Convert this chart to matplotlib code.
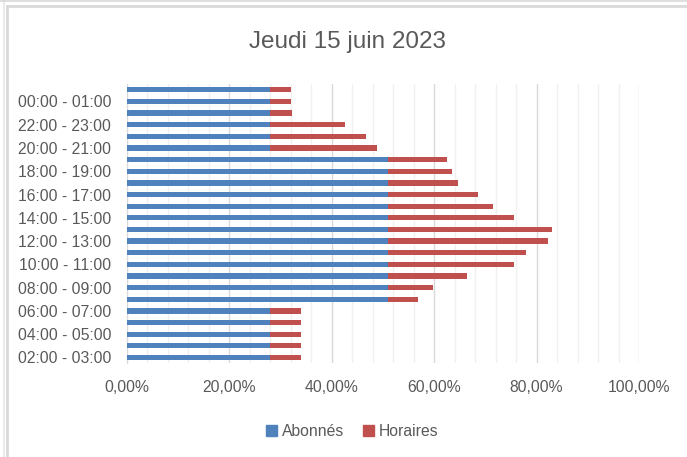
import matplotlib
matplotlib.use("Agg")
import matplotlib.pyplot as plt
from matplotlib.ticker import FixedLocator, FuncFormatter, MultipleLocator
from matplotlib.lines import Line2D
from matplotlib.patches import Patch

plt.rcParams['font.family'] = ['Liberation Sans', 'DejaVu Sans']

# categories, bottom to top
creneaux = ["02:00 - 03:00", "03:00 - 04:00", "04:00 - 05:00", "05:00 - 06:00",
            "06:00 - 07:00", "07:00 - 08:00", "08:00 - 09:00", "09:00 - 10:00",
            "10:00 - 11:00", "11:00 - 12:00", "12:00 - 13:00", "13:00 - 14:00",
            "14:00 - 15:00", "15:00 - 16:00", "16:00 - 17:00", "17:00 - 18:00",
            "18:00 - 19:00", "19:00 - 20:00", "20:00 - 21:00", "21:00 - 22:00",
            "22:00 - 23:00", "23:00 - 00:00", "00:00 - 01:00", "01:00 - 02:00"]

# percent values
abonnes = [28.0, 28.0, 28.0, 28.0, 28.0, 51.0, 51.0, 51.0, 51.0, 51.0, 51.0, 51.0,
           51.0, 51.0, 51.0, 51.0, 51.0, 51.0, 28.0, 28.0, 28.0, 28.0, 28.0, 28.0]
horaires = [6.0, 6.0, 6.0, 6.0, 6.0, 5.9, 8.9, 15.5, 24.7, 26.9, 31.3, 32.0,
            24.7, 20.6, 17.5, 13.7, 12.5, 11.6, 20.9, 18.7, 14.7, 4.3, 4.0, 4.0]

bleu = "#4F81BD"
rouge = "#C0504D"
gris = "#595959"

W, H = 687, 457
fig = plt.figure(figsize=(W / 100, H / 100), dpi=100)
ax = fig.add_axes([126.5 / W, 1 - 363.3 / H, (639 - 126.5) / W, (363.3 - 84) / H])

pos = list(range(len(creneaux)))
ax.barh(pos, abonnes, height=0.45, color=bleu, zorder=3)
ax.barh(pos, horaires, left=abonnes, height=0.45, color=rouge, zorder=3)

ax.set_xlim(0, 100)
ax.set_ylim(-0.5, len(creneaux) - 0.5)
ax.xaxis.set_major_locator(MultipleLocator(20))
ax.xaxis.set_minor_locator(MultipleLocator(4))
ax.xaxis.set_major_formatter(FuncFormatter(lambda v, p: f"{v:.2f}%".replace(".", ",")))
ax.grid(axis='x', which='major', color="#d9d9d9", linewidth=1.0, zorder=0)
ax.grid(axis='x', which='minor', color="#f0f0f0", linewidth=1.0, zorder=0)

ax.yaxis.set_major_locator(FixedLocator(pos[::2]))
ax.set_yticklabels(creneaux[::2])

for s in ['top', 'right', 'bottom']:
    ax.spines[s].set_visible(False)
ax.spines['left'].set_color("#d9d9d9")
ax.tick_params(axis='both', which='both', length=0, colors=gris, labelsize=11.3)
ax.tick_params(axis='x', pad=12)
ax.tick_params(axis='y', pad=11)

fig.text(347.5 / W, 1 - 42 / H, "Jeudi 15 juin 2023", ha='center', va='center',
         fontsize=17.5, color=gris)

handles = [Patch(color=bleu), Patch(color=rouge)]
fig.legend(handles, ["Abonnés", "Horaires"], loc='center', ncol=2,
           bbox_to_anchor=(352 / W, 1 - 431 / H), frameon=False, fontsize=11.3,
           handlelength=0.7, handleheight=0.7, handletextpad=0.3, columnspacing=1.2,
           labelcolor=gris)

# chart borders
fig.add_artist(Line2D([7 / W, 7 / W], [0, 1 - 5.5 / H], color="#d9d9d9", lw=2))
fig.add_artist(Line2D([7 / W, 1], [1 - 5.5 / H, 1 - 5.5 / H], color="#d9d9d9", lw=2))
fig.add_artist(Line2D([3.5 / W, 3.5 / W], [0, 1], color="#e6e6e6", lw=1.2))
fig.add_artist(Line2D([0, 1], [1 - 0.8 / H, 1 - 0.8 / H], color="#d9d9d9", lw=1.2))

fig.savefig("out.png", dpi=100)
